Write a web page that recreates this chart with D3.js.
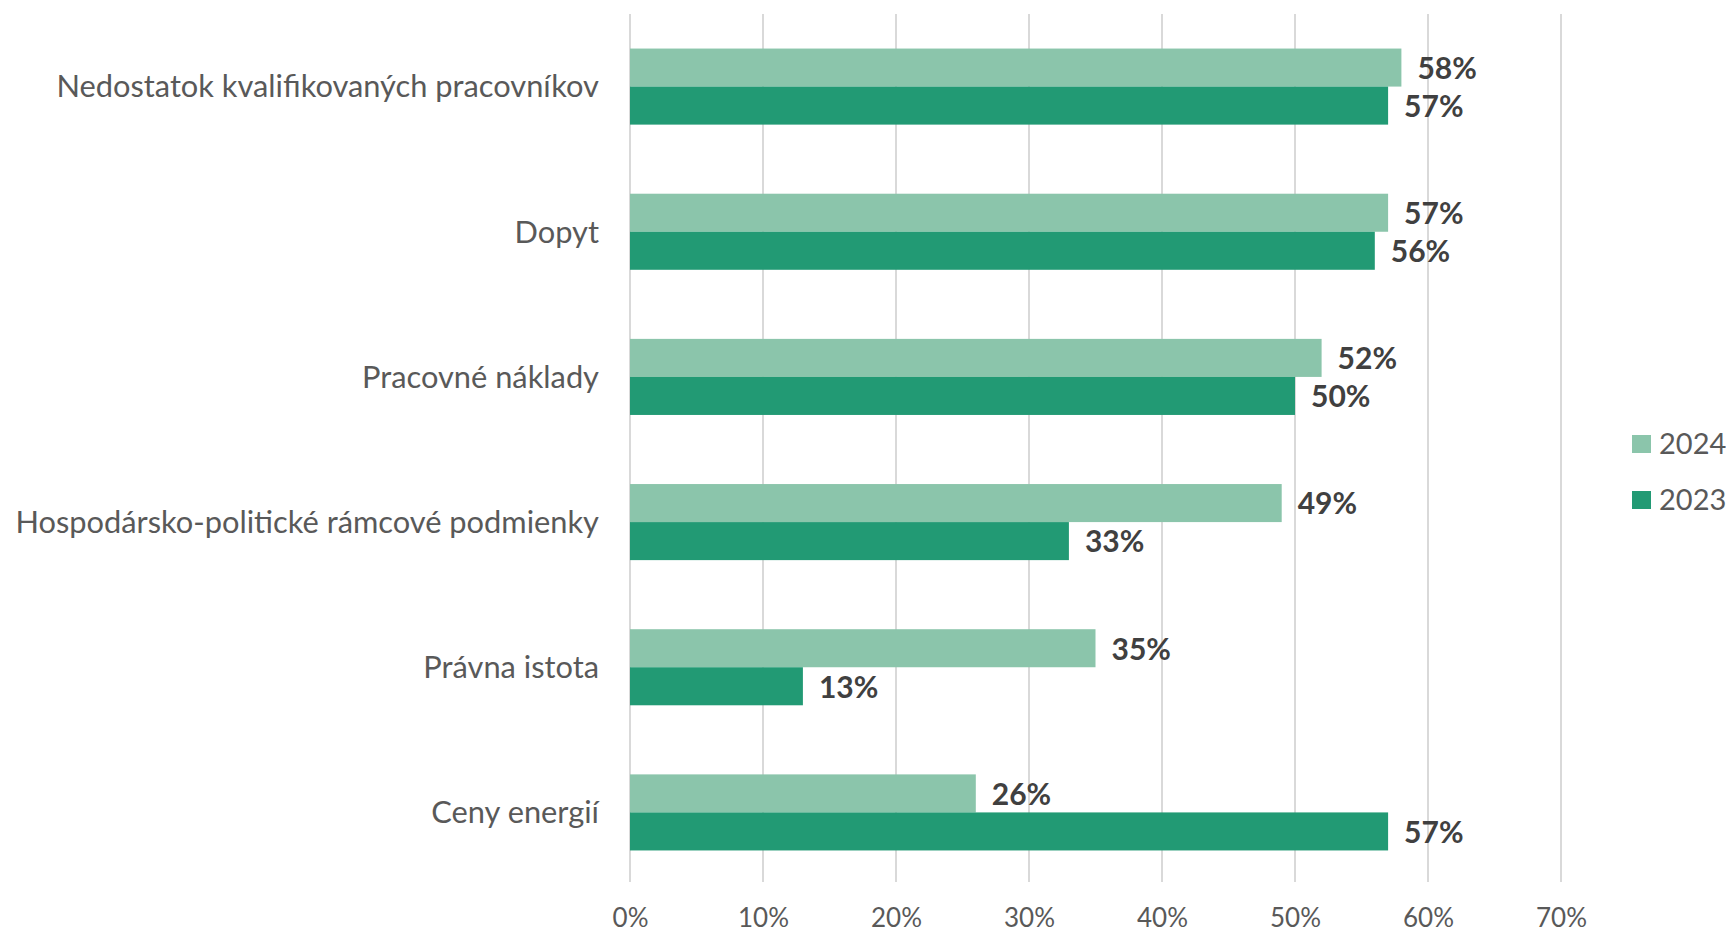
<!DOCTYPE html>
<html>
<head>
<meta charset="utf-8">
<script src="https://cdn.jsdelivr.net/npm/d3@7.9.0/dist/d3.min.js"></script>
<style>
  html, body { margin: 0; padding: 0; background: #fff; }
  svg { display: block; font-family: Lato, "Open Sans", sans-serif; }
</style>
</head>
<body>
<svg width="1726" height="936"></svg>
<script>
const categories = [
  "Nedostatok kvalifikovaných pracovníkov",
  "Dopyt",
  "Pracovné náklady",
  "Hospodársko-politické rámcové podmienky",
  "Právna istota",
  "Ceny energií"
];
const values2024 = [58, 57, 52, 49, 35, 26];
const values2023 = [57, 56, 50, 33, 13, 57];
const seriesNames = ["2024", "2023"];
const xTicks = [0, 10, 20, 30, 40, 50, 60, 70];

const colors = { "2024": "#8bc5ab", "2023": "#229a74" };

const svg = d3.select("svg");

const x = d3.scaleLinear().domain([0, 70]).range([630, 1561]);
const y = d3.scaleBand().domain(categories).range([14, 885]).paddingInner(0.476).paddingOuter(0.238);
const sub = d3.scaleBand().domain(seriesNames).range([0, y.bandwidth()]);

// gridlines
svg.append("g")
  .selectAll("line")
  .data(xTicks)
  .join("line")
  .attr("x1", d => x(d)).attr("x2", d => x(d))
  .attr("y1", 14).attr("y2", 882)
  .attr("stroke", "#d9d9d9")
  .attr("stroke-width", 2);

// x axis labels
const xAxis = svg.append("g")
  .attr("transform", "translate(0,906)")
  .call(d3.axisBottom(x).tickValues(xTicks).tickFormat(d => d + "%").tickSize(0));
xAxis.select(".domain").remove();
xAxis.selectAll("text")
  .attr("fill", "#595959")
  .attr("font-size", 26)
  .attr("font-family", "Lato, sans-serif");

// category labels
svg.append("g")
  .selectAll("text")
  .data(categories)
  .join("text")
  .attr("x", 599)
  .attr("y", d => y(d) + y.bandwidth() / 2)
  .attr("dy", "0.35em")
  .attr("text-anchor", "end")
  .attr("fill", "#595959")
  .attr("font-size", 30.8)
  .text(d => d);

const rows = categories.map((c, i) => ({ cat: c, vals: [
  { key: "2024", v: values2024[i] },
  { key: "2023", v: values2023[i] }
]}));

const groups = svg.append("g")
  .selectAll("g")
  .data(rows)
  .join("g")
  .attr("transform", d => `translate(0,${y(d.cat)})`);

groups.selectAll("rect")
  .data(d => d.vals)
  .join("rect")
  .attr("x", x(0))
  .attr("y", d => sub(d.key))
  .attr("width", d => x(d.v) - x(0))
  .attr("height", sub.bandwidth())
  .attr("fill", d => colors[d.key]);

groups.selectAll("text")
  .data(d => d.vals)
  .join("text")
  .attr("x", d => x(d.v) + 16)
  .attr("y", d => sub(d.key) + sub.bandwidth() / 2)
  .attr("dy", "0.38em")
  .attr("fill", "#404040")
  .attr("font-weight", "bold")
  .attr("font-size", 30)
  .text(d => d.v + "%");

// legend
const legend = svg.append("g")
  .selectAll("g")
  .data(seriesNames)
  .join("g")
  .attr("transform", (d, i) => `translate(1632,${435 + i * 56})`);
legend.append("rect")
  .attr("width", 19).attr("height", 18)
  .attr("fill", d => colors[d]);
legend.append("text")
  .attr("x", 27).attr("y", 9)
  .attr("dy", "0.36em")
  .attr("fill", "#595959")
  .attr("font-size", 29)
  .text(d => d);
</script>
</body>
</html>
